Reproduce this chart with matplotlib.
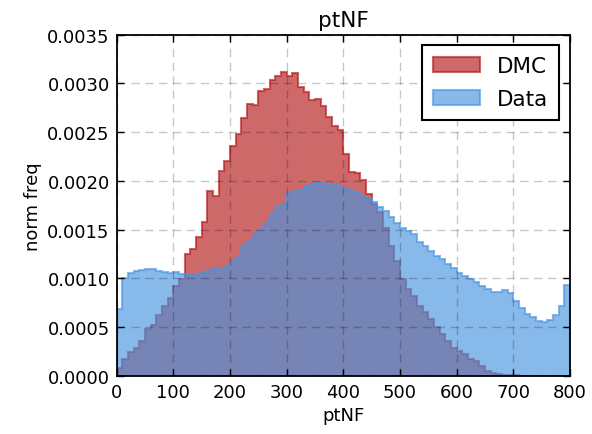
import numpy as np
import matplotlib
matplotlib.use("Agg")
import matplotlib.pyplot as plt

# bin edges of ptNF (width 10, 0..800)
edges = np.arange(0, 801, 10)

# normalised frequencies, in units of 1e-3
dmc = [0.08, 0.17, 0.24, 0.28, 0.36, 0.48, 0.52, 0.62, 0.72, 0.80,
       0.92, 0.99, 1.25, 1.30, 1.42, 1.58, 1.90, 1.84, 2.10, 2.20,
       2.36, 2.48, 2.64, 2.79, 2.78, 2.92, 2.94, 3.03, 3.08, 3.12,
       3.08, 3.11, 2.96, 2.91, 2.83, 2.84, 2.77, 2.65, 2.56, 2.52,
       2.28, 2.09, 2.08, 2.01, 1.86, 1.76, 1.68, 1.52, 1.33, 1.18,
       0.99, 0.89, 0.82, 0.72, 0.65, 0.58, 0.50, 0.43, 0.36, 0.28,
       0.25, 0.22, 0.17, 0.15, 0.10, 0.05, 0.03, 0.02, 0.01, 0.01,
       0.004, 0.002, 0, 0, 0, 0, 0, 0, 0, 0]
data = [0.68, 1.00, 1.05, 1.07, 1.09, 1.10, 1.10, 1.07, 1.06, 1.05,
        1.06, 1.04, 1.04, 1.04, 1.04, 1.06, 1.09, 1.11, 1.10, 1.13,
        1.18, 1.22, 1.33, 1.38, 1.45, 1.51, 1.57, 1.66, 1.73, 1.76,
        1.87, 1.90, 1.91, 1.95, 1.97, 1.99, 1.98, 1.96, 1.97, 1.94,
        1.93, 1.90, 1.89, 1.83, 1.82, 1.78, 1.73, 1.69, 1.63, 1.57,
        1.52, 1.49, 1.45, 1.37, 1.33, 1.28, 1.23, 1.20, 1.15, 1.11,
        1.05, 1.02, 0.99, 0.96, 0.92, 0.89, 0.86, 0.86, 0.88, 0.85,
        0.77, 0.70, 0.63, 0.60, 0.56, 0.55, 0.57, 0.62, 0.72, 0.93]

dmc = np.array(dmc) * 1e-3
data = np.array(data) * 1e-3

fig = plt.figure(figsize=(5.92, 4.35), dpi=100)
ax = fig.add_axes([0.197, 0.134, 0.766, 0.784])

red = "#b41818"
blue = "#4894e1"
ax.stairs(dmc, edges, fill=True, facecolor=red, edgecolor=red, alpha=0.65, lw=1.5, label="DMC")
ax.stairs(data, edges, fill=True, facecolor=blue, edgecolor=blue, alpha=0.65, lw=1.5, label="Data")

ax.set_xlim(0, 800)
ax.set_ylim(0, 0.0035)
ax.set_xticks(np.arange(0, 801, 100))
ax.set_yticks(np.arange(0, 0.00351, 0.0005))
ax.yaxis.set_major_formatter(matplotlib.ticker.FormatStrFormatter("%.4f"))
ax.tick_params(direction="in", top=True, right=True, length=5, width=1,
               labelsize=13, pad=5, colors="black")
for s in ax.spines.values():
    s.set_linewidth(1.3)
ax.set_axisbelow(False)
ax.grid(True, color="k", alpha=0.22, linestyle=(0, (6, 4)), lw=1)

ax.set_title("ptNF", fontsize=15.5)
ax.set_xlabel("ptNF", fontsize=13)
ax.set_ylabel("norm freq", fontsize=13)

leg = ax.legend(loc="upper right", fontsize=15.5, fancybox=False, framealpha=1,
                edgecolor="black", borderaxespad=0.5, handlelength=2.2,
                labelspacing=0.6, borderpad=0.5)
leg.get_frame().set_linewidth(1.5)

fig.savefig("out.png", dpi=100)
